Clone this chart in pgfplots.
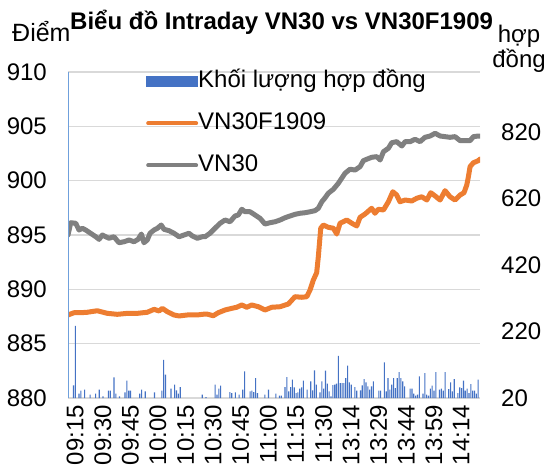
\documentclass[border=0pt]{standalone}
\usepackage{fontspec}
\setmainfont{Liberation Sans}
\usepackage{pgfplots}
\pgfplotsset{compat=1.18}
\definecolor{barblue}{HTML}{4472C4}
\definecolor{barlight}{HTML}{6FA0DC}
\definecolor{vnorange}{HTML}{ED7D31}
\definecolor{vngray}{HTML}{808080}
\definecolor{gridgray}{HTML}{D9D9D9}
\newcommand{\bigfont}{\fontsize{24}{28}\selectfont}
\begin{document}
\begin{tikzpicture}
\useasboundingbox (0,0) rectangle (548pt,469pt);
\pgfplotsset{common/.style={at={(68pt,71pt)}, anchor=south west, scale only axis,
  width=412pt, height=326pt, xmin=0, xmax=224, axis line style={draw=none},
  major tick length=0pt, tick label style={font=\bigfont},
  /pgf/number format/assume math mode=true}}
% ---------- left axis: index lines ----------
\begin{axis}[common, ymin=880, ymax=910, ytick={880,885,890,895,900,905,910},
  ymajorgrids, grid style={gridgray, line width=1.3pt}, xtick=\empty,
  yticklabel style={anchor=east, inner sep=0pt, xshift=-21pt}]
\addplot[vnorange, line width=5pt, line join=round, line cap=round] coordinates {
(0,887.64)(3.3,887.85)(6.9,887.85)(10.5,887.89)(15.9,888.03)(21.4,887.79)(26.8,887.70)
(32.3,887.79)(37.7,887.79)(43.1,887.89)(46.8,888.16)(49.5,888.01)(51.3,888.25)(54.0,887.94)
(57.6,887.64)(60.4,887.55)(64.9,887.64)(70.3,887.64)(73.0,887.70)(75.4,887.73)(79.0,887.57)
(81.7,887.85)(85.4,888.10)(89.0,888.25)(91.7,888.35)(94.5,888.56)(97.2,888.35)(99.9,888.56)
(103.5,888.40)(107.1,888.10)(110.8,888.35)(115.3,888.40)(119.8,888.65)(123.4,889.32)
(127.1,889.27)(129.8,889.32)(131.6,889.94)(133.4,890.86)(135.2,891.53)(136.1,893.00)
(137.4,895.62)(138.8,895.92)(141.5,895.71)(144.3,895.62)(146.1,895.09)(147.9,896.08)
(151.6,896.38)(154.3,896.08)(157.0,895.83)(158.8,896.63)(161.5,896.93)(165.1,897.46)
(166.9,897.00)(168.7,897.37)(171.5,897.30)(174.2,898.06)(176.6,898.98)(178.7,898.68)
(180.5,898.06)(183.3,898.22)(186.9,898.13)(189.6,898.38)(192.3,898.52)(195.1,898.22)
(197.2,898.89)(199.6,898.59)(202.3,898.22)(205.0,899.08)(207.7,898.52)(210.4,898.22)
(213.2,898.68)(215.3,898.89)(216.8,899.60)(217.7,900.37)(218.6,901.29)(220.4,901.65)
(223.1,901.84)(224,901.99)};
\addplot[vngray, line width=5pt, line join=round, line cap=round] coordinates {
(0,895.00)(1.5,896.13)(4.2,896.08)(6.0,895.46)(7.8,895.62)(9.6,895.46)(12.3,895.16)
(15.1,894.84)(16.9,894.60)(18.7,895.00)(20.5,894.84)(22.3,894.70)(25.0,894.84)(27.7,894.29)
(30.5,894.38)(33.2,894.54)(35.9,894.38)(38.1,894.60)(39.9,895.09)(41.3,894.29)(43.1,894.54)
(44.6,895.16)(46.8,895.46)(48.6,895.62)(50.7,895.92)(52.2,895.52)(54.9,895.40)(57.6,895.16)
(60.4,894.84)(63.1,895.00)(65.8,895.16)(67.6,894.91)(70.3,894.70)(73.0,894.84)(74.5,894.84)
(77.2,895.16)(79.9,895.62)(82.7,896.08)(85.4,896.38)(88.1,896.22)(90.8,896.75)(92.6,896.84)
(94.5,897.37)(96.3,897.14)(99.0,897.14)(101.7,896.84)(104.4,896.54)(107.1,896.01)
(109.8,896.13)(112.6,896.22)(115.3,896.38)(118.0,896.59)(120.7,896.75)(123.4,896.90)
(126.2,897.00)(128.9,897.05)(131.6,897.14)(134.3,897.24)(136.1,897.46)(138.0,898.06)
(139.8,898.43)(141.5,898.84)(144.3,899.21)(147.0,899.76)(150.6,900.68)(153.3,901.05)
(156.1,900.98)(158.8,901.29)(160.6,901.84)(162.4,901.97)(165.1,902.15)(167.9,902.21)
(169.7,901.90)(171.5,902.67)(174.2,902.98)(176.0,903.49)(178.7,903.59)(181.5,903.19)
(183.3,903.59)(186.0,903.59)(188.7,903.81)(191.4,903.59)(194.1,903.99)(196.9,904.11)
(199.6,904.36)(202.3,904.11)(205.0,904.05)(207.7,903.99)(210.4,904.05)(213.2,903.68)
(215.9,903.68)(218.6,903.68)(220.4,904.05)(223.1,904.11)(224,904.11)};
\end{axis}
% ---------- right axis: volume bars ----------
\begin{axis}[common, ymin=20, ymax=1000, ytick={20,220,420,620,820},
  yticklabel pos=right,
  yticklabel style={anchor=west, inner sep=0pt, xshift=21pt},
  xtick={0,15,...,210},
  xticklabels={09:15,09:30,09:45,10:00,10:15,10:30,10:45,11:00,11:15,11:30,13:14,13:29,13:44,13:59,14:14},
  xticklabel style={yshift=-7pt, xshift=-1.5pt, rotate=90, anchor=north east, inner sep=0pt},
  legend style={draw=none, fill=none, at={(0.182,1.012)}, anchor=north west,
    font=\bigfont, row sep=20pt, nodes={inner sep=0pt, text height=17pt, text depth=5pt}},
  legend cell align=left,
  /tikz/every even column/.append style={column sep=5pt}]
\addplot[ybar, bar width=1.2, bar shift=0pt, fill=barlight, draw=none, forget plot]
  coordinates {(0,2000)};
\addplot[ybar, bar width=0.6, bar shift=0pt, fill=barblue, draw=none,
  legend image code/.code={\fill[barblue] (0pt,-5.5pt) rectangle (52pt,5.5pt);}] coordinates {
(3,58)(4,237)(6,33)(7,42)(9,45)(12,30)(15,33)(17,45)(19,25)(22,42)(23,42)(25,82)(26,33)
(28,25)(31,37)(32,72)(33,42)(34,42)(39,33)(40,45)(42,40)(47,37)(51,42)(52,135)(53,90)
(56,48)(58,60)(59,43)(60,33)(61,53)(73,30)(75,23)(80,60)(81,30)(82,48)(83,57)(88,38)
(89,35)(91,37)(93,30)(95,45)(96,100)(99,40)(100,42)(101,38)(102,80)(103,35)(107,30)
(109,45)(113,33)(115,27)(116,27)(118,53)(119,83)(120,40)(121,53)(122,75)(123,52)(124,35)
(125,37)(126,48)(127,52)(128,72)(130,45)(132,70)(133,43)(134,103)(135,60)(137,37)(138,70)
(139,48)(140,102)(141,63)(142,40)(143,25)(144,59)(145,60)(146,63)(147,147)(148,65)(149,65)
(150,65)(151,80)(152,117)(153,67)(154,60)(156,53)(157,42)(159,43)(160,58)(161,77)(162,67)
(163,55)(164,45)(165,55)(166,70)(169,42)(170,42)(172,127)(173,40)(174,80)(175,45)(176,60)
(177,80)(178,50)(179,80)(180,98)(181,80)(182,70)(183,55)(186,48)(187,48)(188,33)(189,27)
(190,30)(191,85)(193,33)(194,95)(195,30)(196,27)(197,48)(198,57)(199,42)(200,98)(202,45)
(203,48)(204,42)(205,98)(207,47)(208,67)(209,40)(210,77)(212,35)(213,52)(214,50)(215,72)
(216,42)(217,48)(218,35)(219,62)(220,42)(221,42)(222,33)(223,75)};
\addlegendentry{Khối lượng hợp đồng}
\addlegendimage{legend image code/.code={\draw[vnorange, line width=4pt, line cap=round] (2pt,0pt) -- (50pt,0pt);}}
\addlegendentry{VN30F1909}
\addlegendimage{legend image code/.code={\draw[vngray, line width=4pt, line cap=round] (2pt,0pt) -- (50pt,0pt);}}
\addlegendentry{VN30}
\end{axis}
% ---------- titles ----------
\node[anchor=base west, inner sep=0pt, font=\bfseries\bigfont] at (70pt,439pt)
  {Biểu đồ Intraday VN30 vs VN30F1909};
\node[anchor=base west, inner sep=0pt, font=\fontsize{25}{29}\selectfont] at (12pt,427pt) {Điểm};
\node[anchor=base, inner sep=0pt, font=\bigfont] at (519pt,426pt) {hợp};
\node[anchor=base, inner sep=0pt, font=\bigfont] at (519pt,401pt) {đồng};
\end{tikzpicture}
\end{document}
